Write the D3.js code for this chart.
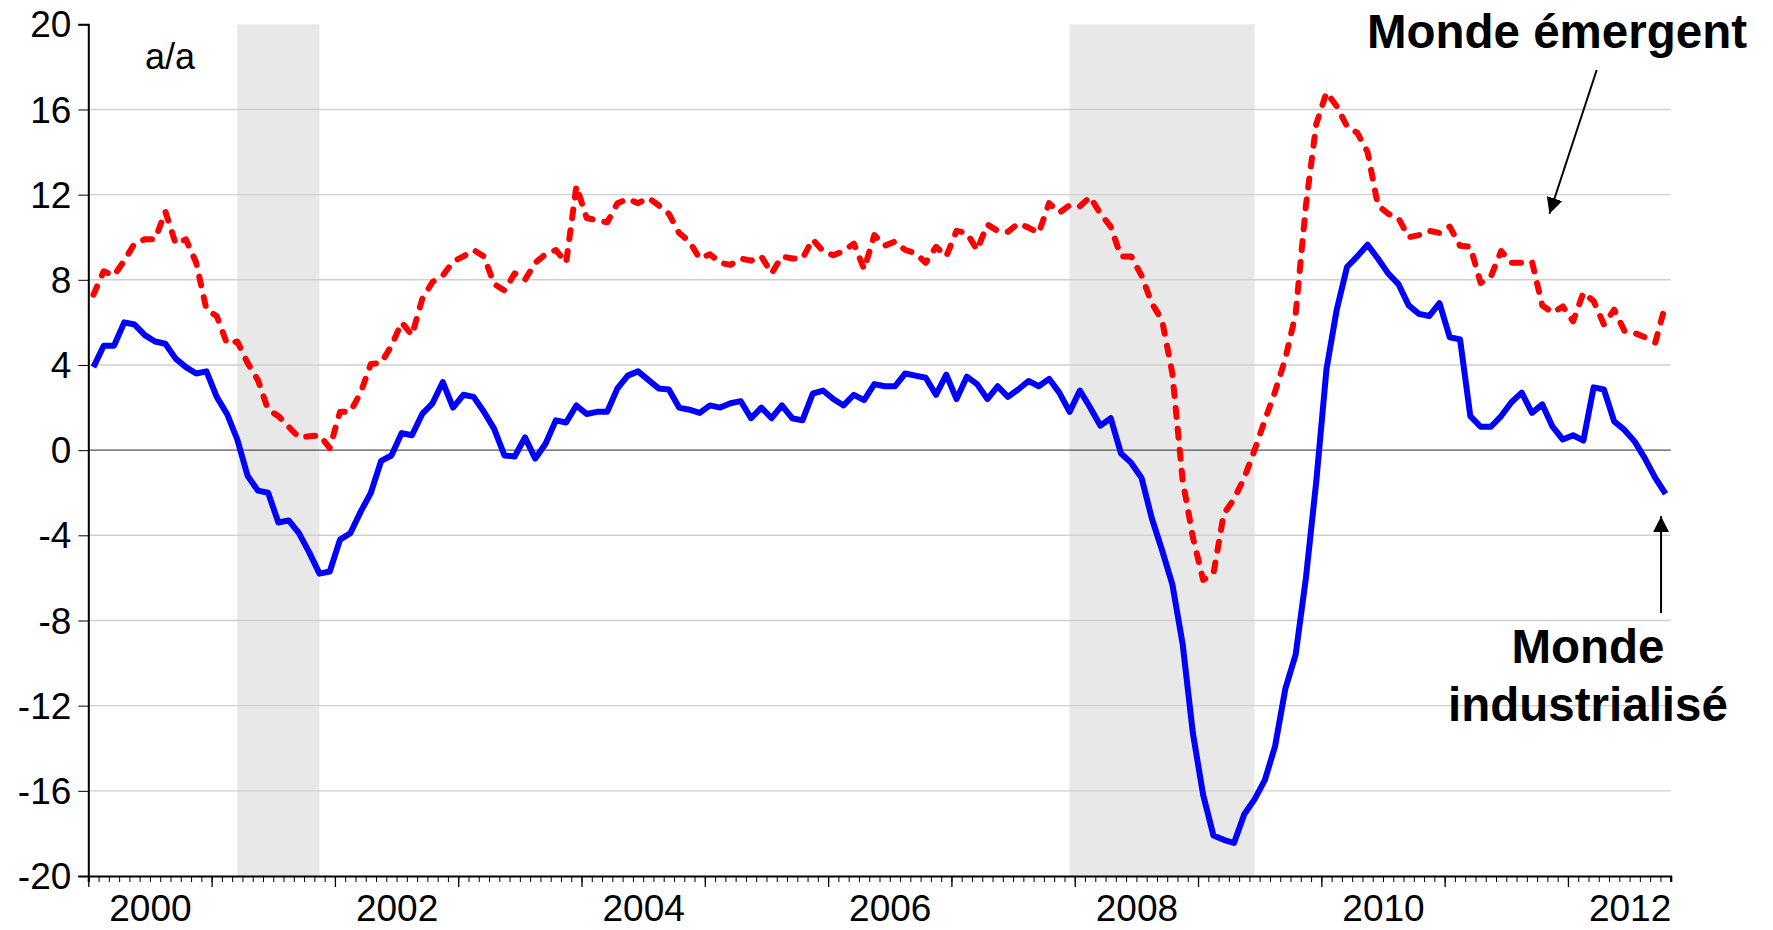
<!DOCTYPE html>
<html>
<head>
<meta charset="utf-8">
<script src="https://cdn.jsdelivr.net/npm/d3@7"></script>
<style>
    body { margin: 0; background: #fff; }
    svg text { font-family: "Liberation Sans", Arial, Helvetica, sans-serif; fill: #000; }
</style>
</head>
<body>
<div id="chart"><svg class="diagram"></svg></div>
<script>

// monthly data, jan 2000 -> oct 2012 (y/y %)
var startYear = 2000;
var nbMonths = 154;

var industrialise = [
    3.9, 4.9, 4.9, 6.0, 5.9, 5.4, 5.1, 5.0, 4.3, 3.9, 3.6, 3.7,
    2.5, 1.7, 0.5, -1.2, -1.9, -2.0, -3.4, -3.3, -3.9, -4.8, -5.8, -5.7,
    -4.2, -3.9, -2.9, -2.0, -0.5, -0.25, 0.8, 0.7, 1.7, 2.2, 3.2, 2.0,
    2.6, 2.5, 1.8, 1.0, -0.25, -0.3, 0.6, -0.4, 0.3, 1.4, 1.3, 2.1,
    1.7, 1.8, 1.8, 2.9, 3.5, 3.7, 3.3, 2.9, 2.85, 2.0, 1.9, 1.75,
    2.1, 2.0, 2.2, 2.3, 1.5, 2.0, 1.5, 2.1, 1.5, 1.4, 2.65, 2.8,
    2.4, 2.1, 2.6, 2.35, 3.1, 3.0, 3.0, 3.6, 3.5, 3.4, 2.6, 3.55,
    2.4, 3.45, 3.1, 2.4, 3.0, 2.5, 2.85, 3.25, 3.0, 3.35, 2.7, 1.8,
    2.8, 2.0, 1.15, 1.5, -0.15, -0.6, -1.3, -3.2, -4.7, -6.3, -9.1, -13.3,
    -16.2, -18.1, -18.3, -18.45, -17.1, -16.4, -15.5, -13.9, -11.2, -9.6, -6.0, -1.5,
    3.8, 6.6, 8.6, 9.1, 9.65, 9.0, 8.3, 7.8, 6.8, 6.4, 6.3, 6.9,
    5.3, 5.2, 1.6, 1.1, 1.1, 1.6, 2.25, 2.7, 1.75, 2.15, 1.1, 0.5,
    0.7, 0.45, 2.95, 2.85, 1.35, 0.95, 0.4, -0.4, -1.3, -2.05
];

var emergent = [
    7.3, 8.4, 8.2, 8.9, 9.7, 9.9, 9.9, 11.2, 9.7, 9.9, 8.8, 6.6,
    6.3, 5.0, 5.1, 4.1, 3.3, 1.9, 1.6, 1.1, 0.6, 0.65, 0.7, 0.1,
    1.8, 1.8, 2.7, 4.05, 4.1, 4.9, 6.0, 5.4, 7.1, 7.9, 8.2, 8.85,
    9.1, 9.4, 9.1, 7.8, 7.5, 8.3, 8.0, 8.8, 9.2, 9.4, 8.8, 12.4,
    10.9, 10.8, 10.7, 11.6, 11.8, 11.6, 11.85, 11.5, 11.1, 10.2, 9.8, 9.0,
    9.2, 8.8, 8.7, 9.0, 8.9, 9.1, 8.3, 9.1, 9.0, 9.0, 9.9, 9.35,
    9.15, 9.35, 9.7, 8.5, 10.1, 9.6, 9.8, 9.4, 9.25, 8.8, 9.55, 9.1,
    10.3, 10.2, 9.4, 10.6, 10.3, 10.25, 10.65, 10.45, 10.2, 11.6, 11.15, 11.5,
    11.45, 11.9, 11.1, 10.5, 9.1, 9.1, 8.2, 6.9, 6.1, 3.6, -1.4, -4.1,
    -6.1, -5.8, -3.0, -2.3, -1.3, 0.0, 1.4, 2.75, 4.3, 6.4, 11.5, 15.3,
    16.8, 16.15, 15.2, 14.9, 14.0, 11.5, 11.1, 10.9, 10.0, 10.1, 10.3, 10.2,
    10.5, 9.6, 9.55, 7.85, 8.15, 9.35, 8.8, 8.8, 8.85, 6.8, 6.45, 6.75,
    6.05, 7.4, 7.0, 5.9, 6.6, 5.6, 5.5, 5.3, 5.05, 6.85
];

// recessions (first and last month, "yyyy-mm")
var recessions = [["2001-03", "2001-11"], ["2007-12", "2009-06"]];

var yTicks = [-20, -16, -12, -8, -4, 0, 4, 8, 12, 16, 20];
var yearLabels = ["2000", "2002", "2004", "2006", "2008", "2010", "2012"];

/***********************************************************************************************************/

function monthIndex(s) {
    var p = s.split("-");
    return (+p[0] - startYear) * 12 + (+p[1] - 1);
}

function drawChart(mydiv) {
    var div = d3.select('#' + mydiv);
    var svg = div.select("svg");
    var width = 1773, height = 930;
    svg.attr("width", width).attr("height", height);

    svg.margin = {top: 24.3, right: 102.3, bottom: 54, left: 88.3};

    var x = d3.scaleLinear()
      .domain([0, nbMonths])
      .range([svg.margin.left, width - svg.margin.right]);

    var y = d3.scaleLinear()
      .domain([-20, 20])
      .range([height - svg.margin.bottom, svg.margin.top]);

    var xMid = function(i) { return x(i + 0.5); };

    // shaded recessions
    svg.append("g").selectAll("rect")
      .data(recessions)
      .enter().append("rect")
      .attr("x", function(d) { return xMid(monthIndex(d[0])); })
      .attr("width", function(d) { return xMid(monthIndex(d[1])) - xMid(monthIndex(d[0])); })
      .attr("y", y(20))
      .attr("height", y(-20) - y(20))
      .style("fill", "#e8e8e8");

    // gridlines
    svg.append("g").selectAll("line")
      .data(yTicks.filter(function(v) { return v !== 20 && v !== -20; }))
      .enter().append("line")
      .attr("x1", x(0)).attr("x2", x(nbMonths))
      .attr("y1", function(d) { return y(d); })
      .attr("y2", function(d) { return y(d); })
      .style("stroke", function(d) { return d === 0 ? "#555" : "#cfcfcf"; })
      .style("stroke-width", 1.4);

    // y axis (plain hyphen for negatives, like the original)
    var yAxis = svg.append("g")
      .attr("transform", "translate(" + x(0) + ",0)")
      .call(d3.axisLeft(y).tickValues(yTicks).tickSize(10).tickPadding(7)
        .tickFormat(function(d) { return String(d); }));
    yAxis.select(".domain").style("stroke", "#000").style("stroke-width", 2);
    yAxis.selectAll(".tick line").style("stroke", "#000").style("stroke-width", 1);
    yAxis.selectAll("text").style("font-size", "37px").attr("dy", "0.34em");

    // x axis : monthly minor ticks, yearly major ticks, labels every other year
    var xMinor = svg.append("g")
      .attr("transform", "translate(0," + y(-20) + ")")
      .call(d3.axisBottom(x).tickValues(d3.range(0, nbMonths + 1)).tickSize(6).tickFormat(""));
    xMinor.select(".domain").style("stroke", "#000").style("stroke-width", 2.2);
    xMinor.selectAll(".tick line").style("stroke", "#000").style("stroke-width", 1);

    var xMajor = svg.append("g")
      .attr("transform", "translate(0," + y(-20) + ")")
      .call(d3.axisBottom(x).tickValues(d3.range(0, nbMonths + 1, 12)).tickSize(11).tickFormat(""));
    xMajor.select(".domain").remove();
    xMajor.selectAll(".tick line").style("stroke", "#000").style("stroke-width", 1.3);

    var xLabels = svg.append("g")
      .attr("transform", "translate(0," + y(-20) + ")")
      .call(d3.axisBottom(x)
        .tickValues(yearLabels.map(function(s) { return (+s - startYear) * 12 + 6; }))
        .tickSize(0).tickPadding(19)
        .tickFormat(function(d) { return yearLabels[(d - 6) / 24]; }));
    xLabels.select(".domain").remove();
    xLabels.selectAll("text").style("font-size", "37px");

    // series
    var line = d3.line()
      .x(function(d, i) { return xMid(i); })
      .y(function(d) { return y(d); });

    svg.append("path")
      .datum(emergent)
      .attr("d", line)
      .style("fill", "none")
      .style("stroke", "#ff0000")
      .style("stroke-width", 6)
      .style("stroke-linecap", "round")
      .style("stroke-linejoin", "round")
      .style("stroke-dasharray", "9,12");

    svg.append("path")
      .datum(industrialise)
      .attr("d", line)
      .style("fill", "none")
      .style("stroke", "#0000ff")
      .style("stroke-width", 6)
      .style("stroke-linejoin", "round");

    // unit
    svg.append("text")
      .attr("x", 145).attr("y", 69)
      .style("font-size", "36px")
      .text("a/a");

    // annotations
    svg.append("defs").append("marker")
      .attr("id", "head")
      .attr("viewBox", "0 0 10 10")
      .attr("refX", 10).attr("refY", 5)
      .attr("markerUnits", "userSpaceOnUse")
      .attr("markerWidth", 16).attr("markerHeight", 16)
      .attr("orient", "auto")
      .append("path").attr("d", "M0,0L10,5L0,10Z").style("fill", "#000");

    var lastI = nbMonths - 1;

    svg.append("text")
      .attr("x", 1747).attr("y", 48)
      .attr("text-anchor", "end")
      .style("font-size", "47.5px").style("font-weight", "bold")
      .text("Monde émergent");

    svg.append("line")
      .attr("x1", 1596.7).attr("y1", 70)
      .attr("x2", xMid(lastI - 11.3)).attr("y2", y(11.1))
      .style("stroke", "#000").style("stroke-width", 2)
      .attr("marker-end", "url(#head)");

    var lab = svg.append("text")
      .attr("text-anchor", "middle")
      .style("font-size", "47.5px").style("font-weight", "bold");
    lab.append("tspan").attr("x", 1588).attr("y", 663).text("Monde");
    lab.append("tspan").attr("x", 1588).attr("y", 721).text("industrialisé");

    svg.append("line")
      .attr("x1", xMid(lastI) - 4.5).attr("y1", 613)
      .attr("x2", xMid(lastI) - 4.5).attr("y2", y(-3.1))
      .style("stroke", "#000").style("stroke-width", 2)
      .attr("marker-end", "url(#head)");
}

drawChart("chart");
</script>
</body>
</html>
